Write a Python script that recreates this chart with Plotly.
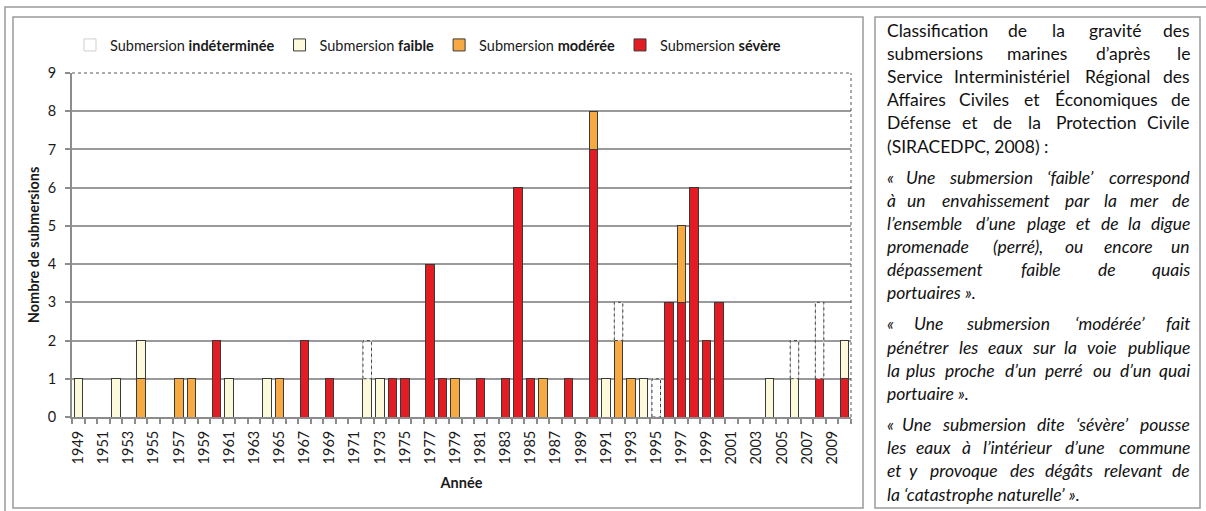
import plotly.graph_objects as go

# ---------------- data ----------------
years = list(range(1949, 2011))
severe = [0, 0, 0, 0, 0, 0, 0, 0, 0, 0,
          0, 2, 0, 0, 0, 0, 0, 0, 2, 0,
          1, 0, 0, 0, 0, 1, 1, 0, 4, 1,
          0, 0, 1, 0, 1, 6, 1, 0, 0, 1,
          0, 7, 0, 0, 0, 0, 0, 3, 3, 6,
          2, 3, 0, 0, 0, 0, 0, 0, 0, 1,
          0, 1]
moderate = [0, 0, 0, 0, 0, 1, 0, 0, 1, 1,
            0, 0, 0, 0, 0, 0, 1, 0, 0, 0,
            0, 0, 0, 0, 0, 0, 0, 0, 0, 0,
            1, 0, 0, 0, 0, 0, 0, 1, 0, 0,
            0, 1, 0, 2, 1, 0, 0, 0, 2, 0,
            0, 0, 0, 0, 0, 0, 0, 0, 0, 0,
            0, 0]
faible = [1, 0, 0, 1, 0, 1, 0, 0, 0, 0,
          0, 0, 1, 0, 0, 1, 0, 0, 0, 0,
          0, 0, 0, 1, 1, 0, 0, 0, 0, 0,
          0, 0, 0, 0, 0, 0, 0, 0, 0, 0,
          0, 0, 1, 0, 0, 1, 0, 0, 0, 0,
          0, 0, 0, 0, 0, 1, 0, 1, 0, 0,
          0, 1]
indet = [0, 0, 0, 0, 0, 0, 0, 0, 0, 0,
         0, 0, 0, 0, 0, 0, 0, 0, 0, 0,
         0, 0, 0, 1, 0, 0, 0, 0, 0, 0,
         0, 0, 0, 0, 0, 0, 0, 0, 0, 0,
         0, 0, 0, 1, 0, 0, 1, 0, 0, 0,
         0, 0, 0, 0, 0, 0, 0, 1, 0, 2,
         0, 0]

x_tick_years = list(range(1949, 2011, 2))
y_ticks = list(range(0, 10))

side_paragraphs = [
    (False, ["Classification de la gravité des",
             "submersions marines d’après le",
             "Service Interministériel Régional des",
             "Affaires Civiles et Économiques de",
             "Défense et de la Protection Civile",
             "(SIRACEDPC, 2008) :"]),
    (True, ["« Une submersion ‘faible’ correspond",
            "à un envahissement par la mer de",
            "l’ensemble d’une plage et de la digue",
            "promenade (perré), ou encore un",
            "dépassement faible de quais",
            "portuaires »."]),
    (True, ["« Une submersion ‘modérée’ fait",
            "pénétrer les eaux sur la voie publique",
            "la plus proche d’un perré ou d’un quai",
            "portuaire »."]),
    (True, ["« Une submersion dite ‘sévère’ pousse",
            "les eaux à l’intérieur d’une commune",
            "et y provoque des dégâts relevant de",
            "la ‘catastrophe naturelle’ »."]),
]

# ---------------- geometry / style ----------------
FONT = "Lato"
W_FIG, H_FIG = 1206, 511
L, R, T, B = 72, 355, 73, 94
PW = W_FIG - L - R
PH = H_FIG - T - B


def px_x(px):
    return (px - L) / PW


def px_y(py):
    return (H_FIG - B - py) / PH


BAR_W = 0.68
OUTLINE = "#3a3a3a"
AXIS_C = "#8c8c8c"
FRAME_C = "#9a9a9a"


def nz(vals):
    return [v if v else None for v in vals]


fig = go.Figure()
for name, vals, col in [("sévère", severe, "#E31B22"),
                        ("modérée", moderate, "#F7AA42"),
                        ("faible", faible, "#FDFADC")]:
    fig.add_trace(go.Bar(x=years, y=nz(vals), name=f"Submersion <b>{name}</b>",
                         width=BAR_W,
                         marker=dict(color=col, line=dict(color=OUTLINE, width=1))))
fig.add_trace(go.Bar(x=years, y=nz(indet), name="Submersion <b>indéterminée</b>",
                     width=BAR_W,
                     marker=dict(color="rgba(255,255,255,0)",
                                 line=dict(color="#cfcfcf", width=1))))

# dotted outline for the undetermined segments
ox, oy = [], []
hw = BAR_W / 2
for yr, s, m, f, i in zip(years, severe, moderate, faible, indet):
    if i:
        base = s + m + f
        top = base + i
        ox += [yr - hw, yr - hw, yr + hw, yr + hw, yr - hw, None]
        oy += [base, top, top, base, base, None]
fig.add_trace(go.Scatter(x=ox, y=oy, mode="lines", showlegend=False, hoverinfo="skip",
                         line=dict(color="#444", width=1, dash="dot")))

# ---------------- side text box (justified) ----------------
CW = {
    'a': .49, 'b': .56, 'c': .45, 'd': .56, 'e': .51, 'f': .32, 'g': .51, 'h': .55,
    'i': .23, 'j': .23, 'k': .50, 'l': .23, 'm': .83, 'n': .55, 'o': .56, 'p': .56,
    'q': .56, 'r': .36, 's': .41, 't': .34, 'u': .55, 'v': .50, 'w': .77, 'x': .49,
    'y': .50, 'z': .45, 'é': .51, 'è': .51, 'à': .49, 'â': .49, 'É': .55,
    'C': .66, 'S': .50, 'I': .27, 'R': .60, 'A': .68, 'D': .73, 'P': .58, 'E': .55,
    'U': .70, '’': .23, '‘': .23, '(': .30, ')': .30, ',': .23, '.': .23, ':': .23,
    '«': .45, '»': .45, ' ': .25,
}
TS = 17.5
TL, TR = 885, 1192


def tw(s):
    return sum(CW.get(c, 0.58) for c in s) * TS


annotations = []
py = 30
STEP = 23.2
for italic, lines in side_paragraphs:
    for li, line in enumerate(lines):
        last = li == len(lines) - 1
        wrap = (lambda s: f"<i>{s}</i>") if italic else (lambda s: s)
        base = dict(xref="paper", yref="paper", y=px_y(py), yanchor="middle",
                    showarrow=False, font=dict(family=FONT, size=TS, color="#111"))
        words = line.split(" ")
        if last or len(words) < 2:
            annotations.append(dict(base, x=px_x(TL), xanchor="left", text=wrap(line)))
        else:
            widths = [tw(w) for w in words]
            gap = (TR - TL - sum(widths)) / (len(words) - 1)
            pos = TL
            for wi, (w, wd) in enumerate(zip(words, widths)):
                if wi == 0:
                    annotations.append(dict(base, x=px_x(TL), xanchor="left", text=wrap(w)))
                elif wi == len(words) - 1:
                    annotations.append(dict(base, x=px_x(TR), xanchor="right", text=wrap(w)))
                else:
                    annotations.append(dict(base, x=px_x(pos + wd / 2), xanchor="center",
                                            text=wrap(w)))
                pos += wd + gap
        py += STEP
    py += 7.8

# ---------------- frames ----------------
shapes = [
    dict(type="rect", xref="paper", yref="paper", x0=px_x(5), x1=px_x(1230),
         y0=px_y(7), y1=px_y(530), line=dict(color=FRAME_C, width=1.5)),
    dict(type="rect", xref="paper", yref="paper", x0=px_x(13), x1=px_x(863),
         y0=px_y(17), y1=px_y(508), line=dict(color=FRAME_C, width=1.5)),
    dict(type="rect", xref="paper", yref="paper", x0=px_x(875), x1=px_x(1200),
         y0=px_y(17), y1=px_y(508), line=dict(color=FRAME_C, width=1.5)),
    dict(type="line", xref="paper", yref="paper", x0=0, x1=1, y0=1, y1=1,
         line=dict(color="#555", width=1, dash="dot")),
    dict(type="line", xref="paper", yref="paper", x0=1, x1=1, y0=0, y1=1,
         line=dict(color="#555", width=1, dash="dot")),
]

fig.update_layout(
    width=W_FIG, height=H_FIG,
    margin=dict(l=L, r=R, t=T, b=B),
    barmode="stack",
    plot_bgcolor="white", paper_bgcolor="white",
    font=dict(family=FONT, size=13, color="#1a1a1a"),
    legend=dict(orientation="h", x=px_x(70), xanchor="left", y=px_y(45), yanchor="middle",
                traceorder="reversed", font=dict(size=14.5), itemwidth=30,
                bgcolor="rgba(0,0,0,0)"),
    xaxis=dict(range=[1948.5, 2010.5], tickmode="array", tickvals=x_tick_years,
               ticktext=[str(y) for y in x_tick_years], tickangle=-90, ticks="",
               ticklabelstandoff=6,
               showline=True, linecolor=AXIS_C, linewidth=2, showgrid=False, zeroline=False,
               tickfont=dict(size=14.5),
               minor=dict(ticks="outside", tickmode="linear", tick0=1948.5, dtick=1,
                          ticklen=5, tickcolor=AXIS_C, tickwidth=1.5, showgrid=False),
               title=dict(text="<b>Année</b>", font=dict(size=14.5), standoff=14)),
    yaxis=dict(range=[0, 9], tickmode="array", tickvals=y_ticks, ticks="outside", ticklen=5,
               ticklabelstandoff=6,
               tickcolor=AXIS_C, tickwidth=2, showline=True, linecolor=AXIS_C, linewidth=2,
               showgrid=True, gridcolor="#9a9a9a", gridwidth=2, zeroline=False,
               tickfont=dict(size=14.5),
               title=dict(text="<b>Nombre de submersions</b>", font=dict(size=14.5), standoff=5)),
    shapes=shapes,
    annotations=annotations,
)

fig.write_html("out.html", config={"displayModeBar": False},
               post_script="document.body.style.margin='0';")
